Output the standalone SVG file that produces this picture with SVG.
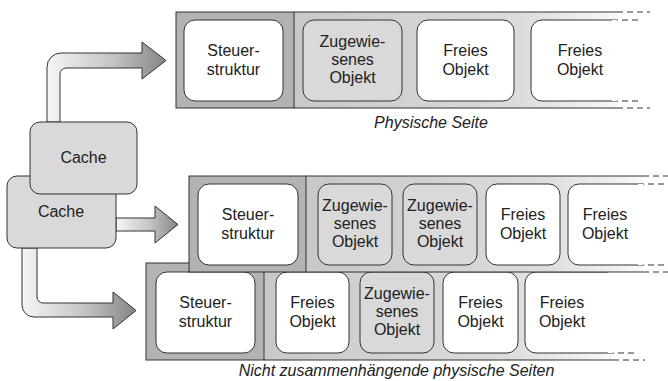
<svg xmlns="http://www.w3.org/2000/svg" width="668" height="381" viewBox="0 0 668 381">
<defs>
<linearGradient id="strip" x1="0" y1="0" x2="1" y2="0">
<stop offset="0" stop-color="#c8c8c8"/>
<stop offset="0.7" stop-color="#dcdcdc"/>
<stop offset="1" stop-color="#f8f8f8"/>
</linearGradient>
<linearGradient id="arrow" x1="0" y1="0" x2="1" y2="0">
<stop offset="0" stop-color="#f6f6f6"/>
<stop offset="0.55" stop-color="#c4c4c4"/>
<stop offset="1" stop-color="#858585"/>
</linearGradient>
</defs>
<style>
.pg{fill:#b3b3b3;stroke:#333;stroke-width:1}
.ln{fill:none;stroke:#333;stroke-width:1}
.dash{fill:none;stroke:#333;stroke-width:1;stroke-dasharray:6 4}
.wb{fill:#fff;stroke:#333;stroke-width:1}
.gb{fill:#d9d9d9;stroke:#333;stroke-width:1}
.of{fill:#fff;stroke:none}
.arr{fill:url(#arrow);stroke:#333;stroke-width:1}
text{font-family:"Liberation Sans",Arial,Helvetica,sans-serif;font-size:16px;fill:#222;text-anchor:middle}
.cap{font-style:italic}
</style>

<g id="page-bottom">
<rect x="264" y="263" width="349" height="97" fill="url(#strip)"/>
<rect class="pg" x="146" y="263" width="118" height="97"/>
<path class="ln" d="M264 263 H613 M264 360 H613"/>
<path class="dash" d="M613 360 H645 M608 353 H638"/>
<g id="b-steuer"><rect class="wb" x="156" y="272" width="99" height="81" rx="11"/><text x="205.5" y="308">Steuer-</text><text x="205.5" y="327">struktur</text></g>
<g id="b-frei1"><rect class="wb" x="276" y="272" width="73" height="81" rx="11"/><text x="312.5" y="308">Freies</text><text x="312.5" y="327">Objekt</text></g>
<g id="b-zug1"><rect class="gb" x="360" y="272" width="74" height="81" rx="11"/><text x="397" y="299">Zugewie-</text><text x="397" y="317">senes</text><text x="397" y="335">Objekt</text></g>
<g id="b-frei2"><rect class="wb" x="443" y="272" width="75" height="81" rx="11"/><text x="480.5" y="308">Freies</text><text x="480.5" y="327">Objekt</text></g>
<g id="b-frei3"><path class="of" d="M613 272 H536 A11 11 0 0 0 525 283 V342 A11 11 0 0 0 536 353 H613 Z"/><path class="ln" d="M608 272 H536 A11 11 0 0 0 525 283 V342 A11 11 0 0 0 536 353 H608"/><text x="562" y="308">Freies</text><text x="562" y="327">Objekt</text></g>
</g>

<g id="page-middle">
<rect x="306" y="176" width="337" height="96" fill="url(#strip)"/>
<rect class="pg" x="189" y="176" width="117" height="96"/>
<path class="ln" d="M306 176 H643 M306 272 H643"/>
<path class="dash" d="M643 176 H668 M643 272 H668 M638 184 H668 M638 265 H668"/>
<g id="m-steuer"><rect class="wb" x="198" y="184" width="100" height="81" rx="11"/><text x="248" y="220">Steuer-</text><text x="248" y="239">struktur</text></g>
<g id="m-zug1"><rect class="gb" x="318" y="184" width="74" height="81" rx="11"/><text x="355" y="211">Zugewie-</text><text x="355" y="229">senes</text><text x="355" y="247">Objekt</text></g>
<g id="m-zug2"><rect class="gb" x="403" y="184" width="74" height="81" rx="11"/><text x="440" y="211">Zugewie-</text><text x="440" y="229">senes</text><text x="440" y="247">Objekt</text></g>
<g id="m-frei1"><rect class="wb" x="486" y="184" width="74" height="81" rx="11"/><text x="523" y="220">Freies</text><text x="523" y="239">Objekt</text></g>
<g id="m-frei2"><path class="of" d="M643 184 H579 A11 11 0 0 0 568 195 V254 A11 11 0 0 0 579 265 H643 Z"/><path class="ln" d="M638 184 H579 A11 11 0 0 0 568 195 V254 A11 11 0 0 0 579 265 H638"/><text x="605" y="220">Freies</text><text x="605" y="239">Objekt</text></g>
</g>

<g id="page-top">
<rect x="294" y="12" width="323" height="96" fill="url(#strip)"/>
<rect class="pg" x="176" y="12" width="118" height="96"/>
<path class="ln" d="M294 12 H617 M294 108 H617"/>
<path class="dash" d="M617 12 H650 M617 108 H650 M612 20 H640 M612 101 H640"/>
<g id="t-steuer"><rect class="wb" x="184" y="20" width="99" height="81" rx="11"/><text x="233.5" y="56">Steuer-</text><text x="233.5" y="75">struktur</text></g>
<g id="t-zug1"><rect class="gb" x="303" y="20" width="99" height="81" rx="11"/><text x="352.5" y="47">Zugewie-</text><text x="352.5" y="65">senes</text><text x="352.5" y="83">Objekt</text></g>
<g id="t-frei1"><rect class="wb" x="417" y="20" width="97" height="81" rx="11"/><text x="465.5" y="56">Freies</text><text x="465.5" y="75">Objekt</text></g>
<g id="t-frei2"><path class="of" d="M617 20 H542 A11 11 0 0 0 531 31 V90 A11 11 0 0 0 542 101 H617 Z"/><path class="ln" d="M612 20 H542 A11 11 0 0 0 531 31 V90 A11 11 0 0 0 542 101 H612"/><text x="580" y="56">Freies</text><text x="580" y="75">Objekt</text></g>
</g>

<g id="connectors">
<path class="arr" d="M47 122 V67 A14 14 0 0 1 61 53 H142 V42 L166 60.5 L142 79 V68 H66 A6 6 0 0 0 60 74 V122 Z"/>
<path class="arr" d="M116 218 H155 V206 L178 224.5 L155 243 V231 H116 Z"/>
<path class="arr" d="M22 248 V305 A12 12 0 0 0 34 317 H113 V329 L136 310.5 L113 292 V303 H43 A6 6 0 0 1 37 297 V248 Z"/>
</g>

<g id="cache-back"><rect class="gb" x="7" y="176" width="109" height="72" rx="10"/><text x="61" y="217">Cache</text></g>
<g id="cache-front"><rect class="gb" x="30" y="122" width="107" height="72" rx="10"/><text x="83.5" y="163">Cache</text></g>

<text class="cap" x="431" y="128">Physische Seite</text>
<text class="cap" x="396.5" y="376">Nicht zusammenhängende physische Seiten</text>
</svg>
